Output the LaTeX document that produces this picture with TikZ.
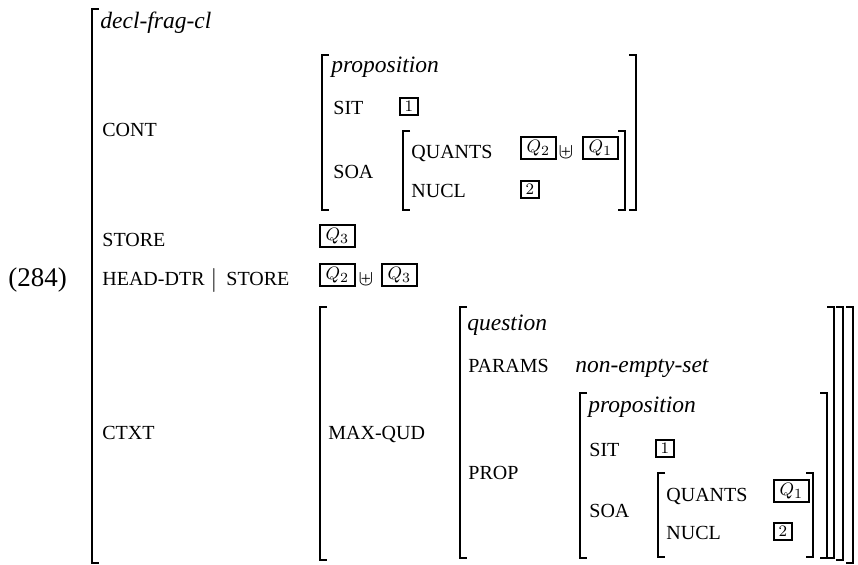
\documentclass[tikz,border=0pt]{standalone}
\usepackage{fontspec}
\setmainfont{Liberation Serif}
\newcommand{\avmL}[3]{\draw[brk] ({#1+7},#2) -- (#1,#2) -- (#1,#3) -- ({#1+7},#3);}
\newcommand{\avmR}[3]{\draw[brk] ({#1-7},#2) -- (#1,#2) -- (#1,#3) -- ({#1-7},#3);}
\tikzset{
  feat/.style={anchor=base west, inner sep=0pt, font=\fontsize{10}{12}\selectfont},
  typ/.style={anchor=base west, inner sep=0pt, font=\fontsize{11.75}{14}\selectfont\itshape},
  brk/.style={line width=0.7pt},
  qbox/.style={draw, line width=0.9pt, anchor=south west, minimum height=11pt, minimum width=17.5pt, inner sep=0pt, font=\fontsize{9.5}{11}\selectfont},
  tbox/.style={draw, line width=0.9pt, anchor=south west, minimum height=8.5pt, minimum width=9pt, inner sep=0pt, font=\fontsize{8.5}{10}\selectfont},
  opsym/.style={anchor=base, inner sep=0pt, font=\fontsize{11}{13}\selectfont},
}
\begin{document}
\begin{tikzpicture}[x=0.5pt, y=-0.5pt]
\useasboundingbox (0,0) rectangle (858,565);
% example number
\node[anchor=base west, inner sep=0pt, font=\fontsize{13.5}{16}\selectfont] (num) at (8,287) {(284)};
% outer AVM
\avmL{92}{9}{563}
\avmR{853}{307}{563}
\node[typ] (tdecl) at (100,29) {decl-frag-cl};
\node[feat] (fcont) at (102,137) {CONT};
\node[feat] (fstore) at (102,247) {STORE};
\node[feat] (fhd) at (102,286) {HEAD-DTR};
\node[opsym, font=\fontsize{12}{14}\selectfont] (fbar) at (214,287) {$|$};
\node[feat] (fhs) at (226,286) {STORE};
\node[feat] (fctxt) at (102,440) {CTXT};
% CONT value
\avmL{322}{55}{210}
\avmR{636}{55}{210}
\node[typ] (tprop1) at (331,73) {proposition};
\node[feat] (fsit1) at (333,115) {SIT};
\node[tbox] (tag1a) at (399,116) {$1$};
\node[feat] (fsoa1) at (333,179) {SOA};
\avmL{403}{131}{210}
\avmR{625}{131}{210}
\node[feat] (fq1) at (411,159) {QUANTS};
\node[qbox] (q2a) at (520,160) {$Q_2$};
\node[opsym] (up1) at (566,159) {$\uplus$};
\node[qbox] (q1a) at (582,160) {$Q_1$};
\node[feat] (fn1) at (411,198) {NUCL};
\node[tbox] (tag2a) at (520,199) {$2$};
% STORE / HEAD-DTR values
\node[qbox] (q3a) at (319,248) {$Q_3$};
\node[qbox] (q2b) at (319,287) {$Q_2$};
\node[opsym] (up2) at (366,286) {$\uplus$};
\node[qbox] (q3b) at (381,287) {$Q_3$};
% CTXT value
\avmL{320}{307}{560}
\avmR{843}{307}{560}
\node[feat] (fmq) at (328,440) {MAX-QUD};
\avmL{460}{307}{558}
\avmR{834}{307}{558}
\node[typ] (tq) at (467,331) {question};
\node[feat] (fpar) at (468,373) {PARAMS};
\node[typ] (tnes) at (575,373) {non-empty-set};
\node[feat] (fprop) at (468,480) {PROP};
\avmL{580}{393}{558}
\avmR{827}{393}{558}
\node[typ] (tprop2) at (588,413) {proposition};
\node[feat] (fsit2) at (589,457) {SIT};
\node[tbox] (tag1b) at (655,458) {$1$};
\node[feat] (fsoa2) at (589,518) {SOA};
\avmL{658}{473}{557}
\avmR{813}{473}{557}
\node[feat] (fq2) at (666,502) {QUANTS};
\node[qbox] (q1b) at (773,503) {$Q_1$};
\node[feat] (fn2) at (666,540) {NUCL};
\node[tbox] (tag2b) at (773,541) {$2$};
\end{tikzpicture}
\end{document}
